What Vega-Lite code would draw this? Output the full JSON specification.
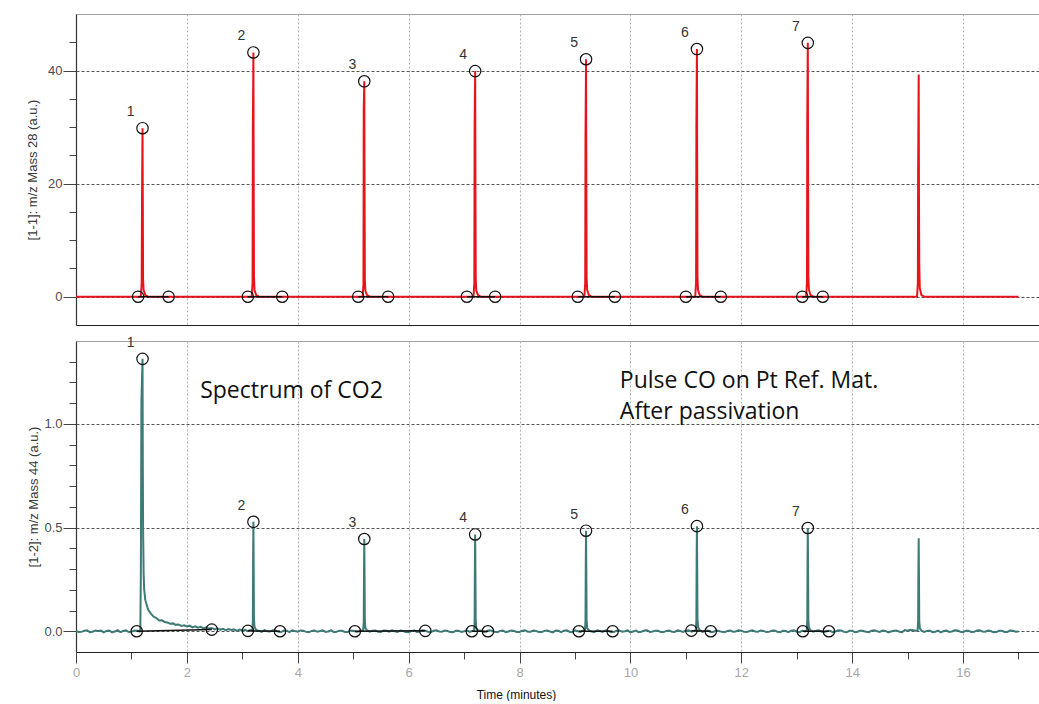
{
  "$schema": "https://vega.github.io/schema/vega-lite/v6.json",
  "padding": {"left": 26, "top": 13, "right": 0, "bottom": 0},
  "background": "white",
  "spacing": 16,
  "bounds": "flush",
  "config": {
    "view": {"stroke": "#a0a0a0", "strokeWidth": 1},
    "axis": {
      "domainColor": "#333", "domainWidth": 1.2, "tickColor": "#444", "tickWidth": 1,
      "labelFont": "Liberation Sans", "labelFontSize": 13, "labelColor": "#4a4a55",
      "titleFont": "Liberation Sans", "titleFontSize": 13, "titleFontWeight": "normal", "titleColor": "#3a3a3a",
      "gridColor": "#555", "gridDash": [3, 2], "gridWidth": 1, "labelOverlap": false, "labelFlush": false
    }
  },
  "datasets": {
    "m28": [
      {"t": 0, "v": 0},
      {"t": 1.17, "v": 0}, {"t": 1.185, "v": 2.5}, {"t": 1.19, "v": 16}, {"t": 1.2, "v": 29.8}, {"t": 1.205, "v": 17}, {"t": 1.21, "v": 3}, {"t": 1.22, "v": 1.2}, {"t": 1.25, "v": 0.3}, {"t": 1.3, "v": 0},
      {"t": 3.17, "v": 0}, {"t": 3.185, "v": 2.5}, {"t": 3.19, "v": 30}, {"t": 3.2, "v": 43.2}, {"t": 3.205, "v": 22.4}, {"t": 3.21, "v": 3.5}, {"t": 3.22, "v": 1.2}, {"t": 3.25, "v": 0.3}, {"t": 3.3, "v": 0},
      {"t": 5.17, "v": 0}, {"t": 5.185, "v": 2.2}, {"t": 5.19, "v": 33}, {"t": 5.2, "v": 38.1}, {"t": 5.205, "v": 20}, {"t": 5.21, "v": 3}, {"t": 5.22, "v": 1}, {"t": 5.25, "v": 0.3}, {"t": 5.3, "v": 0},
      {"t": 7.17, "v": 0}, {"t": 7.185, "v": 2.4}, {"t": 7.19, "v": 30}, {"t": 7.2, "v": 39.9}, {"t": 7.205, "v": 21}, {"t": 7.21, "v": 3.2}, {"t": 7.22, "v": 1.1}, {"t": 7.25, "v": 0.3}, {"t": 7.3, "v": 0},
      {"t": 9.17, "v": 0}, {"t": 9.185, "v": 2.5}, {"t": 9.19, "v": 28}, {"t": 9.2, "v": 42}, {"t": 9.205, "v": 22}, {"t": 9.21, "v": 3.4}, {"t": 9.22, "v": 1.2}, {"t": 9.25, "v": 0.3}, {"t": 9.3, "v": 0},
      {"t": 11.17, "v": 0}, {"t": 11.185, "v": 2.6}, {"t": 11.19, "v": 30}, {"t": 11.2, "v": 43.8}, {"t": 11.205, "v": 23}, {"t": 11.21, "v": 3.5}, {"t": 11.22, "v": 1.2}, {"t": 11.25, "v": 0.3}, {"t": 11.3, "v": 0},
      {"t": 13.17, "v": 0}, {"t": 13.185, "v": 2.6}, {"t": 13.19, "v": 31}, {"t": 13.2, "v": 44.9}, {"t": 13.205, "v": 23.5}, {"t": 13.21, "v": 3.6}, {"t": 13.22, "v": 1.2}, {"t": 13.25, "v": 0.3}, {"t": 13.3, "v": 0},
      {"t": 15.17, "v": 0}, {"t": 15.185, "v": 2.4}, {"t": 15.19, "v": 22.3}, {"t": 15.2, "v": 39.3}, {"t": 15.205, "v": 18}, {"t": 15.21, "v": 6}, {"t": 15.22, "v": 1.5}, {"t": 15.25, "v": 0.3}, {"t": 15.3, "v": 0},
      {"t": 17.0, "v": 0}
    ],
    "bl28": [
      {"peak": 1, "t": 1.12, "v": 0}, {"peak": 1, "t": 1.67, "v": 0},
      {"peak": 2, "t": 3.1, "v": 0}, {"peak": 2, "t": 3.72, "v": 0},
      {"peak": 3, "t": 5.09, "v": 0}, {"peak": 3, "t": 5.63, "v": 0},
      {"peak": 4, "t": 7.05, "v": 0}, {"peak": 4, "t": 7.56, "v": 0},
      {"peak": 5, "t": 9.05, "v": 0}, {"peak": 5, "t": 9.72, "v": 0},
      {"peak": 6, "t": 11.0, "v": 0}, {"peak": 6, "t": 11.63, "v": 0},
      {"peak": 7, "t": 13.1, "v": 0}, {"peak": 7, "t": 13.47, "v": 0}
    ],
    "pk28": [
      {"label": "1", "t": 1.2, "v": 29.8},
      {"label": "2", "t": 3.2, "v": 43.2},
      {"label": "3", "t": 5.2, "v": 38.1},
      {"label": "4", "t": 7.2, "v": 39.9},
      {"label": "5", "t": 9.2, "v": 42},
      {"label": "6", "t": 11.2, "v": 43.8},
      {"label": "7", "t": 13.2, "v": 44.9}
    ],
    "m44": [
      {"t": 0, "v": 0.002}, {"t": 0.05, "v": -0.004}, {"t": 0.1, "v": -0.003}, {"t": 0.15, "v": 0.003}, {"t": 0.2, "v": 0.005}, {"t": 0.25, "v": -0.004}, {"t": 0.3, "v": -0.002}, {"t": 0.35, "v": 0.004}, {"t": 0.4, "v": 0.001}, {"t": 0.45, "v": 0.003}, {"t": 0.5, "v": -0.005}, {"t": 0.55, "v": 0.002}, {"t": 0.6, "v": 0.004}, {"t": 0.65, "v": -0.005}, {"t": 0.7, "v": -0.001}, {"t": 0.75, "v": 0.005}, {"t": 0.8, "v": -0.004}, {"t": 0.85, "v": 0.001}, {"t": 0.9, "v": 0.004}, {"t": 0.95, "v": -0.004}, {"t": 1.0, "v": -0.003}, {"t": 1.05, "v": 0.004}, {"t": 1.1, "v": 0.002}, {"t": 1.15, "v": -0.002},
      {"t": 1.16, "v": 0.001}, {"t": 1.17, "v": 0.28}, {"t": 1.18, "v": 1.11}, {"t": 1.2, "v": 1.314}, {"t": 1.205, "v": 0.82}, {"t": 1.21, "v": 0.5}, {"t": 1.22, "v": 0.28}, {"t": 1.23, "v": 0.2}, {"t": 1.25, "v": 0.15}, {"t": 1.3, "v": 0.105}, {"t": 1.35, "v": 0.085}, {"t": 1.4, "v": 0.07}, {"t": 1.45, "v": 0.064}, {"t": 1.5, "v": 0.052}, {"t": 1.55, "v": 0.053}, {"t": 1.6, "v": 0.045}, {"t": 1.65, "v": 0.042}, {"t": 1.7, "v": 0.036}, {"t": 1.75, "v": 0.038}, {"t": 1.8, "v": 0.031}, {"t": 1.85, "v": 0.033}, {"t": 1.9, "v": 0.026}, {"t": 1.95, "v": 0.029}, {"t": 2.0, "v": 0.023}, {"t": 2.05, "v": 0.027}, {"t": 2.1, "v": 0.019}, {"t": 2.15, "v": 0.024}, {"t": 2.2, "v": 0.017}, {"t": 2.25, "v": 0.021}, {"t": 2.3, "v": 0.014}, {"t": 2.35, "v": 0.019}, {"t": 2.4, "v": 0.013}, {"t": 2.45, "v": 0.016}, {"t": 2.5, "v": 0.009}, {"t": 2.55, "v": 0.014}, {"t": 2.6, "v": 0.008}, {"t": 2.65, "v": 0.012}, {"t": 2.7, "v": 0.005}, {"t": 2.75, "v": 0.011}, {"t": 2.8, "v": 0.006}, {"t": 2.85, "v": 0.009}, {"t": 2.9, "v": 0.002}, {"t": 2.95, "v": 0.008}, {"t": 3.0, "v": 0.003}, {"t": 3.05, "v": 0.007}, {"t": 3.1, "v": 0.001}, {"t": 3.15, "v": 0.006},
      {"t": 3.18, "v": 0.004}, {"t": 3.19, "v": 0.05}, {"t": 3.195, "v": 0.36}, {"t": 3.2, "v": 0.528}, {"t": 3.205, "v": 0.3}, {"t": 3.21, "v": 0.06}, {"t": 3.22, "v": 0.02}, {"t": 3.25, "v": 0.006},
      {"t": 3.3, "v": 0.002}, {"t": 3.35, "v": -0.003}, {"t": 3.4, "v": 0.006}, {"t": 3.45, "v": 0.0}, {"t": 3.5, "v": -0.001}, {"t": 3.55, "v": 0.005}, {"t": 3.6, "v": 0.004}, {"t": 3.65, "v": -0.003}, {"t": 3.7, "v": -0.004}, {"t": 3.75, "v": 0.004}, {"t": 3.8, "v": 0.003}, {"t": 3.85, "v": -0.004}, {"t": 3.9, "v": 0.005}, {"t": 3.95, "v": 0.001}, {"t": 4.0, "v": -0.002}, {"t": 4.05, "v": 0.004}, {"t": 4.1, "v": 0.003}, {"t": 4.15, "v": -0.003}, {"t": 4.2, "v": -0.005}, {"t": 4.25, "v": 0.002}, {"t": 4.3, "v": 0.004}, {"t": 4.35, "v": -0.002}, {"t": 4.4, "v": 0.001}, {"t": 4.45, "v": 0.005}, {"t": 4.5, "v": -0.003}, {"t": 4.55, "v": -0.001}, {"t": 4.6, "v": 0.005}, {"t": 4.65, "v": -0.004}, {"t": 4.7, "v": -0.002}, {"t": 4.75, "v": 0.003}, {"t": 4.8, "v": 0.002}, {"t": 4.85, "v": -0.003}, {"t": 4.9, "v": -0.004}, {"t": 4.95, "v": 0.004}, {"t": 5.0, "v": 0.003}, {"t": 5.05, "v": -0.002}, {"t": 5.1, "v": -0.001}, {"t": 5.15, "v": 0.004},
      {"t": 5.18, "v": 0.002}, {"t": 5.19, "v": 0.045}, {"t": 5.195, "v": 0.3}, {"t": 5.2, "v": 0.445}, {"t": 5.205, "v": 0.26}, {"t": 5.21, "v": 0.05}, {"t": 5.22, "v": 0.015}, {"t": 5.25, "v": 0.004},
      {"t": 5.3, "v": -0.002}, {"t": 5.35, "v": 0.003}, {"t": 5.4, "v": 0.004}, {"t": 5.45, "v": -0.003}, {"t": 5.5, "v": -0.004}, {"t": 5.55, "v": 0.004}, {"t": 5.6, "v": 0.002}, {"t": 5.65, "v": -0.002}, {"t": 5.7, "v": 0.005}, {"t": 5.75, "v": 0.0}, {"t": 5.8, "v": -0.003}, {"t": 5.85, "v": 0.004}, {"t": 5.9, "v": 0.001}, {"t": 5.95, "v": -0.004}, {"t": 6.0, "v": -0.005}, {"t": 6.05, "v": 0.002}, {"t": 6.1, "v": 0.004}, {"t": 6.15, "v": -0.003}, {"t": 6.2, "v": -0.001}, {"t": 6.25, "v": 0.005}, {"t": 6.3, "v": 0.003}, {"t": 6.35, "v": -0.002}, {"t": 6.4, "v": -0.004}, {"t": 6.45, "v": 0.003}, {"t": 6.5, "v": 0.005}, {"t": 6.55, "v": -0.001}, {"t": 6.6, "v": -0.002}, {"t": 6.65, "v": 0.004}, {"t": 6.7, "v": 0.001}, {"t": 6.75, "v": -0.004}, {"t": 6.8, "v": -0.005}, {"t": 6.85, "v": 0.002}, {"t": 6.9, "v": 0.003}, {"t": 6.95, "v": -0.003}, {"t": 7.0, "v": 0.0}, {"t": 7.05, "v": 0.004}, {"t": 7.1, "v": -0.003}, {"t": 7.15, "v": 0.002},
      {"t": 7.18, "v": 0.001}, {"t": 7.19, "v": 0.045}, {"t": 7.195, "v": 0.32}, {"t": 7.2, "v": 0.467}, {"t": 7.205, "v": 0.28}, {"t": 7.21, "v": 0.05}, {"t": 7.22, "v": 0.015}, {"t": 7.25, "v": 0.003},
      {"t": 7.3, "v": 0.004}, {"t": 7.35, "v": -0.003}, {"t": 7.4, "v": -0.002}, {"t": 7.45, "v": 0.005}, {"t": 7.5, "v": 0.003}, {"t": 7.55, "v": -0.002}, {"t": 7.6, "v": -0.005}, {"t": 7.65, "v": 0.002}, {"t": 7.7, "v": 0.004}, {"t": 7.75, "v": -0.004}, {"t": 7.8, "v": -0.001}, {"t": 7.85, "v": 0.004}, {"t": 7.9, "v": 0.002}, {"t": 7.95, "v": -0.003}, {"t": 8.0, "v": -0.004}, {"t": 8.05, "v": 0.003}, {"t": 8.1, "v": 0.005}, {"t": 8.15, "v": -0.002}, {"t": 8.2, "v": -0.002}, {"t": 8.25, "v": 0.004}, {"t": 8.3, "v": 0.001}, {"t": 8.35, "v": -0.004}, {"t": 8.4, "v": -0.003}, {"t": 8.45, "v": 0.002}, {"t": 8.5, "v": 0.004}, {"t": 8.55, "v": -0.001}, {"t": 8.6, "v": -0.005}, {"t": 8.65, "v": 0.003}, {"t": 8.7, "v": 0.002}, {"t": 8.75, "v": -0.004}, {"t": 8.8, "v": 0.003}, {"t": 8.85, "v": 0.005}, {"t": 8.9, "v": -0.002}, {"t": 8.95, "v": -0.004}, {"t": 9.0, "v": 0.004}, {"t": 9.05, "v": 0.0}, {"t": 9.1, "v": -0.003}, {"t": 9.15, "v": 0.003},
      {"t": 9.18, "v": 0.002}, {"t": 9.19, "v": 0.05}, {"t": 9.195, "v": 0.33}, {"t": 9.2, "v": 0.485}, {"t": 9.205, "v": 0.29}, {"t": 9.21, "v": 0.055}, {"t": 9.22, "v": 0.015}, {"t": 9.25, "v": 0.004},
      {"t": 9.3, "v": -0.001}, {"t": 9.35, "v": -0.004}, {"t": 9.4, "v": 0.005}, {"t": 9.45, "v": 0.001}, {"t": 9.5, "v": -0.003}, {"t": 9.55, "v": 0.004}, {"t": 9.6, "v": 0.002}, {"t": 9.65, "v": -0.005}, {"t": 9.7, "v": -0.004}, {"t": 9.75, "v": 0.003}, {"t": 9.8, "v": 0.004}, {"t": 9.85, "v": -0.002}, {"t": 9.9, "v": 0.0}, {"t": 9.95, "v": 0.004}, {"t": 10.0, "v": -0.005}, {"t": 10.05, "v": -0.001}, {"t": 10.1, "v": 0.003}, {"t": 10.15, "v": -0.004}, {"t": 10.2, "v": -0.002}, {"t": 10.25, "v": 0.004}, {"t": 10.3, "v": 0.005}, {"t": 10.35, "v": -0.003}, {"t": 10.4, "v": -0.001}, {"t": 10.45, "v": 0.003}, {"t": 10.5, "v": 0.002}, {"t": 10.55, "v": -0.004}, {"t": 10.6, "v": -0.004}, {"t": 10.65, "v": 0.002}, {"t": 10.7, "v": 0.004}, {"t": 10.75, "v": -0.002}, {"t": 10.8, "v": -0.003}, {"t": 10.85, "v": 0.005}, {"t": 10.9, "v": 0.001}, {"t": 10.95, "v": -0.003}, {"t": 11.0, "v": 0.003}, {"t": 11.05, "v": 0.005}, {"t": 11.1, "v": -0.002}, {"t": 11.15, "v": 0.002},
      {"t": 11.18, "v": 0.003}, {"t": 11.19, "v": 0.05}, {"t": 11.195, "v": 0.35}, {"t": 11.2, "v": 0.507}, {"t": 11.205, "v": 0.3}, {"t": 11.21, "v": 0.06}, {"t": 11.22, "v": 0.02}, {"t": 11.25, "v": 0.005},
      {"t": 11.3, "v": -0.003}, {"t": 11.35, "v": 0.002}, {"t": 11.4, "v": 0.004}, {"t": 11.45, "v": -0.004}, {"t": 11.5, "v": -0.002}, {"t": 11.55, "v": 0.003}, {"t": 11.6, "v": 0.001}, {"t": 11.65, "v": -0.003}, {"t": 11.7, "v": -0.005}, {"t": 11.75, "v": 0.002}, {"t": 11.8, "v": 0.004}, {"t": 11.85, "v": -0.002}, {"t": 11.9, "v": -0.001}, {"t": 11.95, "v": 0.005}, {"t": 12.0, "v": 0.003}, {"t": 12.05, "v": -0.003}, {"t": 12.1, "v": -0.004}, {"t": 12.15, "v": 0.001}, {"t": 12.2, "v": 0.005}, {"t": 12.25, "v": -0.001}, {"t": 12.3, "v": -0.002}, {"t": 12.35, "v": 0.004}, {"t": 12.4, "v": 0.002}, {"t": 12.45, "v": -0.004}, {"t": 12.5, "v": -0.003}, {"t": 12.55, "v": 0.003}, {"t": 12.6, "v": 0.004}, {"t": 12.65, "v": -0.002}, {"t": 12.7, "v": -0.005}, {"t": 12.75, "v": 0.002}, {"t": 12.8, "v": 0.001}, {"t": 12.85, "v": -0.004}, {"t": 12.9, "v": 0.003}, {"t": 12.95, "v": 0.005}, {"t": 13.0, "v": -0.002}, {"t": 13.05, "v": -0.004}, {"t": 13.1, "v": 0.002}, {"t": 13.15, "v": -0.001},
      {"t": 13.18, "v": 0.001}, {"t": 13.19, "v": 0.05}, {"t": 13.195, "v": 0.34}, {"t": 13.2, "v": 0.498}, {"t": 13.205, "v": 0.3}, {"t": 13.21, "v": 0.055}, {"t": 13.22, "v": 0.018}, {"t": 13.25, "v": 0.004},
      {"t": 13.3, "v": -0.002}, {"t": 13.35, "v": 0.003}, {"t": 13.4, "v": 0.005}, {"t": 13.45, "v": -0.002}, {"t": 13.5, "v": -0.004}, {"t": 13.55, "v": 0.001}, {"t": 13.6, "v": 0.002}, {"t": 13.65, "v": -0.004}, {"t": 13.7, "v": -0.001}, {"t": 13.75, "v": 0.005}, {"t": 13.8, "v": 0.004}, {"t": 13.85, "v": -0.003}, {"t": 13.9, "v": -0.005}, {"t": 13.95, "v": 0.002}, {"t": 14.0, "v": 0.003}, {"t": 14.05, "v": -0.004}, {"t": 14.1, "v": -0.002}, {"t": 14.15, "v": 0.004}, {"t": 14.2, "v": 0.001}, {"t": 14.25, "v": -0.002}, {"t": 14.3, "v": -0.004}, {"t": 14.35, "v": 0.003}, {"t": 14.4, "v": 0.005}, {"t": 14.45, "v": 0.0}, {"t": 14.5, "v": -0.003}, {"t": 14.55, "v": 0.004}, {"t": 14.6, "v": 0.002}, {"t": 14.65, "v": -0.005}, {"t": 14.7, "v": -0.001}, {"t": 14.75, "v": 0.003}, {"t": 14.8, "v": 0.004}, {"t": 14.85, "v": -0.002}, {"t": 14.9, "v": -0.004}, {"t": 14.95, "v": 0.006}, {"t": 15.0, "v": 0.003}, {"t": 15.05, "v": 0.007}, {"t": 15.1, "v": 0.005}, {"t": 15.15, "v": 0.003},
      {"t": 15.18, "v": 0.004}, {"t": 15.19, "v": 0.05}, {"t": 15.195, "v": 0.3}, {"t": 15.2, "v": 0.448}, {"t": 15.205, "v": 0.27}, {"t": 15.21, "v": 0.05}, {"t": 15.22, "v": 0.015}, {"t": 15.25, "v": 0.003},
      {"t": 15.3, "v": -0.003}, {"t": 15.35, "v": 0.002}, {"t": 15.4, "v": 0.004}, {"t": 15.45, "v": -0.004}, {"t": 15.5, "v": -0.002}, {"t": 15.55, "v": 0.003}, {"t": 15.6, "v": -0.005}, {"t": 15.65, "v": 0.001}, {"t": 15.7, "v": 0.003}, {"t": 15.75, "v": -0.003}, {"t": 15.8, "v": -0.001}, {"t": 15.85, "v": 0.005}, {"t": 15.9, "v": 0.004}, {"t": 15.95, "v": -0.002}, {"t": 16.0, "v": -0.004}, {"t": 16.05, "v": 0.003}, {"t": 16.1, "v": 0.002}, {"t": 16.15, "v": -0.004}, {"t": 16.2, "v": -0.003}, {"t": 16.25, "v": 0.004}, {"t": 16.3, "v": 0.005}, {"t": 16.35, "v": -0.001}, {"t": 16.4, "v": -0.002}, {"t": 16.45, "v": 0.003}, {"t": 16.5, "v": 0.001}, {"t": 16.55, "v": -0.005}, {"t": 16.6, "v": -0.004}, {"t": 16.65, "v": 0.002}, {"t": 16.7, "v": 0.003}, {"t": 16.75, "v": -0.003}, {"t": 16.8, "v": -0.003}, {"t": 16.85, "v": 0.004}, {"t": 16.9, "v": 0.002}, {"t": 16.95, "v": -0.002}, {"t": 17.0, "v": -0.001}
    ],
    "bl44": [
      {"peak": 1, "t": 1.095, "v": 0}, {"peak": 1, "t": 2.45, "v": 0.008},
      {"peak": 2, "t": 3.1, "v": 0.002}, {"peak": 2, "t": 3.68, "v": 0},
      {"peak": 3, "t": 5.03, "v": 0}, {"peak": 3, "t": 6.3, "v": 0.002},
      {"peak": 4, "t": 7.14, "v": 0}, {"peak": 4, "t": 7.43, "v": 0},
      {"peak": 5, "t": 9.07, "v": 0}, {"peak": 5, "t": 9.68, "v": 0},
      {"peak": 6, "t": 11.1, "v": 0.003}, {"peak": 6, "t": 11.45, "v": 0},
      {"peak": 7, "t": 13.11, "v": 0}, {"peak": 7, "t": 13.58, "v": 0}
    ],
    "pk44": [
      {"label": "1", "t": 1.2, "v": 1.314},
      {"label": "2", "t": 3.2, "v": 0.528},
      {"label": "3", "t": 5.2, "v": 0.445},
      {"label": "4", "t": 7.2, "v": 0.467},
      {"label": "5", "t": 9.2, "v": 0.485},
      {"label": "6", "t": 11.2, "v": 0.507},
      {"label": "7", "t": 13.2, "v": 0.498}
    ],
    "notes": [
      {"t": 2.24, "v": 1.158, "text": "Spectrum of CO2"},
      {"t": 9.81, "v": 1.206, "text": "Pulse CO on Pt Ref. Mat."},
      {"t": 9.81, "v": 1.057, "text": "After passivation"}
    ]
  },
  "vconcat": [
    {
      "width": 963,
      "height": 311,
      "encoding": {
        "x": {"field": "t", "type": "quantitative", "scale": {"domain": [0, 17.37], "nice": false, "zero": false},
          "axis": {"values": [2, 4, 6, 8, 10, 12, 14, 16], "labels": false, "ticks": false, "title": null, "grid": true, "gridColor": "#b4b4b4", "gridDash": [2, 2], "domainColor": "#222"}},
        "y": {"field": "v", "type": "quantitative", "scale": {"domain": [-5, 50], "nice": false, "zero": false},
          "axis": {"values": [0, 5, 10, 15, 20, 25, 30, 35, 40, 45], "format": "d",
            "labelExpr": "(datum.value == 0 || datum.value == 20 || datum.value == 40) ? datum.label : ''",
            "tickSize": {"condition": {"test": "datum.value == 0 || datum.value == 20 || datum.value == 40", "value": 13}, "value": 7},
            "gridOpacity": {"condition": {"test": "datum.value == 0 || datum.value == 20 || datum.value == 40", "value": 1}, "value": 0},
            "title": "[1-1]: m/z Mass 28 (a.u.)", "labelPadding": 1, "titlePadding": 8}}
      },
      "layer": [
        {
          "data": {"name": "m28"},
          "mark": {"type": "line", "color": "#e8141c", "strokeWidth": 2, "clip": true}
        },
        {
          "data": {"name": "bl28"},
          "mark": {"type": "line", "color": "#111", "strokeWidth": 1.5},
          "encoding": {"detail": {"field": "peak", "type": "nominal"}}
        },
        {
          "data": {"name": "bl28"},
          "mark": {"type": "point", "shape": "circle", "filled": false, "stroke": "#111", "strokeWidth": 1.2, "size": 130, "opacity": 1}
        },
        {
          "data": {"name": "pk28"},
          "mark": {"type": "point", "shape": "circle", "filled": false, "stroke": "#111", "strokeWidth": 1.2, "size": 130, "opacity": 1}
        },
        {
          "data": {"name": "pk28"},
          "mark": {"type": "text", "dx": -12, "dy": -16, "font": "Liberation Sans", "fontSize": 14, "color": "#333"},
          "encoding": {"text": {"field": "label"}}
        }
      ]
    },
    {
      "width": 963,
      "height": 311,
      "encoding": {
        "x": {"field": "t", "type": "quantitative", "scale": {"domain": [0, 17.37], "nice": false, "zero": false},
          "axis": {"values": [0, 0.5, 1, 1.5, 2, 2.5, 3, 3.5, 4, 4.5, 5, 5.5, 6, 6.5, 7, 7.5, 8, 8.5, 9, 9.5, 10, 10.5, 11, 11.5, 12, 12.5, 13, 13.5, 14, 14.5, 15, 15.5, 16, 16.5, 17],
            "format": "d",
            "labelExpr": "datum.value % 2 == 0 ? datum.label : ''",
            "tickSize": {"condition": {"test": "datum.value % 2 == 0", "value": 11}, "value": 7},
            "gridOpacity": {"condition": {"test": "datum.value % 2 == 0 && datum.value > 0", "value": 1}, "value": 0},
            "gridColor": "#b4b4b4", "gridDash": [2, 2], "domainColor": "#222",
            "labelColor": "#a8a8a8", "labelPadding": 3,
            "title": "Time (minutes)", "titleFont": "Liberation Sans", "titleFontSize": 12, "titleColor": "#111",
            "titleX": 440, "titleY": 42, "titleBaseline": "middle", "titleAlign": "center"}},
        "y": {"field": "v", "type": "quantitative", "scale": {"domain": [-0.1, 1.4], "nice": false, "zero": false},
          "axis": {"values": [0, 0.1, 0.2, 0.3, 0.4, 0.5, 0.6, 0.7, 0.8, 0.9, 1.0, 1.1, 1.2, 1.3],
            "format": ".1f",
            "labelExpr": "(abs(datum.value) < 0.001 || abs(datum.value - 0.5) < 0.001 || abs(datum.value - 1) < 0.001) ? datum.label : ''",
            "tickSize": {"condition": {"test": "abs(datum.value) < 0.001 || abs(datum.value - 0.5) < 0.001 || abs(datum.value - 1) < 0.001", "value": 13}, "value": 7},
            "gridOpacity": {"condition": {"test": "abs(datum.value) < 0.001 || abs(datum.value - 0.5) < 0.001 || abs(datum.value - 1) < 0.001", "value": 1}, "value": 0},
            "title": "[1-2]: m/z Mass 44 (a.u.)", "labelPadding": 1, "titlePadding": 3}}
      },
      "layer": [
        {
          "data": {"name": "m44"},
          "mark": {"type": "line", "color": "#3e7a76", "strokeWidth": 2, "clip": true}
        },
        {
          "data": {"name": "bl44"},
          "mark": {"type": "line", "color": "#111", "strokeWidth": 1.5},
          "encoding": {"detail": {"field": "peak", "type": "nominal"}}
        },
        {
          "data": {"name": "bl44"},
          "mark": {"type": "point", "shape": "circle", "filled": false, "stroke": "#111", "strokeWidth": 1.2, "size": 130, "opacity": 1}
        },
        {
          "data": {"name": "pk44"},
          "mark": {"type": "point", "shape": "circle", "filled": false, "stroke": "#111", "strokeWidth": 1.2, "size": 130, "opacity": 1}
        },
        {
          "data": {"name": "pk44"},
          "mark": {"type": "text", "dx": -12, "dy": -16, "font": "Liberation Sans", "fontSize": 14, "color": "#333"},
          "encoding": {"text": {"field": "label"}}
        },
        {
          "data": {"name": "notes"},
          "mark": {"type": "text", "align": "left", "baseline": "middle", "font": "Open Sans", "fontSize": 23, "color": "#111"},
          "encoding": {"text": {"field": "text"}}
        }
      ]
    }
  ]
}
